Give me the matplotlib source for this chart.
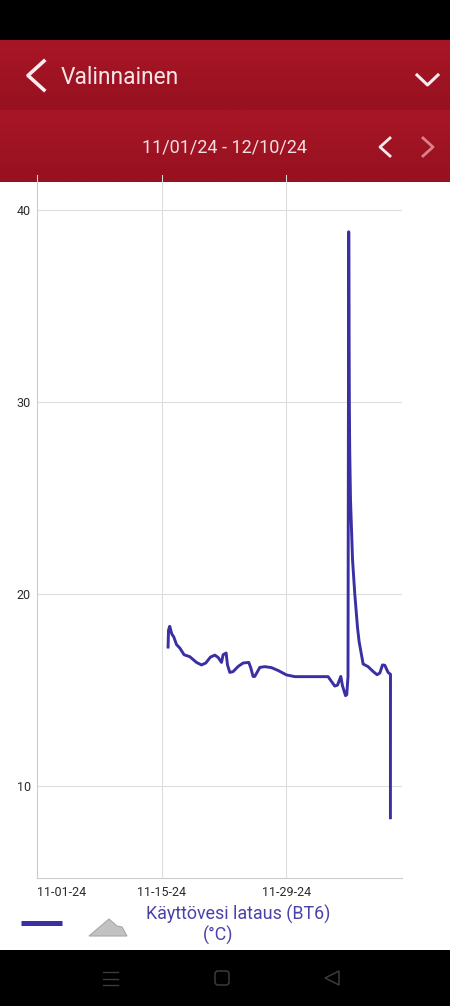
import numpy as np
import matplotlib
matplotlib.use('Agg')
import matplotlib.pyplot as plt
from matplotlib.patches import Polygon, Rectangle, FancyBboxPatch

plt.rcParams['font.family'] = ['Roboto', 'DejaVu Sans']

# days since 11-01-24, values in deg C
days = [14.71, 14.76, 14.90, 15.13, 15.35, 15.66, 16.03, 16.51, 17.15, 17.91, 18.47, 18.95,
        19.48, 19.97, 20.34, 20.72, 20.90, 21.24, 21.39, 21.65, 22.02, 22.59, 23.15, 23.79,
        24.02, 24.27, 24.46, 25.03, 25.59, 26.34, 27.09, 28.03, 28.97, 32.71, 33.09, 33.46,
        33.77, 34.14, 34.33, 34.67, 34.81, 34.95, 35.03, 35.10, 35.14, 35.23, 35.46, 35.71,
        36.02, 36.20, 36.65, 37.21, 37.77, 38.22, 38.53, 38.83, 39.09, 39.46, 39.73, 39.72]
temps = [17.22, 18.1, 18.3, 17.9, 17.75, 17.35, 17.17, 16.82, 16.72, 16.42, 16.29, 16.39,
         16.7, 16.8, 16.68, 16.42, 16.82, 16.91, 16.3, 15.9, 15.94, 16.21, 16.39, 16.42,
         16.13, 15.69, 15.69, 16.16, 16.2, 16.15, 16.0, 15.77, 15.68, 15.68, 15.43, 15.19,
         15.24, 15.69, 15.2, 14.69, 14.74, 15.69, 38.85, 30.0, 27.5, 24.9, 21.77, 20.0,
         18.23, 17.5, 16.34, 16.2, 15.95, 15.78, 15.87, 16.29, 16.27, 15.9, 15.8, 8.33]

x_ticks = [0, 14, 28]
x_labels = ['11-01-24', '11-15-24', '11-29-24']
y_ticks = [10, 20, 30, 40]

RED_TOP = '#a81626'
RED_BOT = '#971120'
LINE = '#3a2fa3'

W, H = 450, 1006
fig = plt.figure(figsize=(W / 100, H / 100), dpi=100, facecolor='white')

# phone chrome behind the chart
bg = fig.add_axes([0, 0, 1, 1], zorder=0)
bg.axis('off')
bg.add_patch(Rectangle((0, 0), W, 40, fc='black', ec='none'))
bg.add_patch(Rectangle((0, 950), W, 56, fc='black', ec='none'))
grad = np.linspace(0, 1, 64).reshape(-1, 1)
cmap = matplotlib.colors.LinearSegmentedColormap.from_list('hdr', [RED_TOP, RED_BOT])
bg.imshow(grad, extent=(0, W, 110, 40), cmap=cmap, aspect='auto', interpolation='bilinear')
bg.imshow(grad, extent=(0, W, 182, 110), cmap=cmap, aspect='auto', interpolation='bilinear')
bg.set_xlim(0, W)
bg.set_ylim(H, 0)

# chart
left, right, top, bottom = 37.3, 402, 175, 878
ax = fig.add_axes([left / W, 1 - bottom / H, (right - left) / W, (bottom - top) / H], zorder=1)
ax.patch.set_alpha(0)
ax.set_xlim(0, (right - left) / 8.89)
ax.set_ylim(10 - (bottom - 785.7) / 19.2, 10 + (785.7 - top) / 19.2)
ax.set_xticks(x_ticks)
ax.set_xticklabels(x_labels)
ax.set_yticks(y_ticks)
ax.grid(True, color='#dcdcdc', lw=0.75)
ax.set_axisbelow(True)
ax.tick_params(length=0, labelsize=9, labelcolor='#2b2b2b')
ax.tick_params(axis='x', pad=5.5)
ax.tick_params(axis='y', pad=4.5)
ax.get_xticklabels()[0].set_ha('left')
for s in ['top', 'right']:
    ax.spines[s].set_visible(False)
for s in ['left', 'bottom']:
    ax.spines[s].set_color('#cccccc')
    ax.spines[s].set_linewidth(0.8)
ax.plot(days, temps, color=LINE, lw=2.1, solid_joinstyle='round', clip_on=False)

# overlay: header text, icons, legend
fg = fig.add_axes([0, 0, 1, 1], zorder=2)
fg.set_xlim(0, W)
fg.set_ylim(H, 0)
fg.axis('off')
fg.patch.set_alpha(0)

fg.text(61, 77.5, 'Valinnainen', color='#f6e6e8', fontsize=16.4, va='center', ha='left')
fg.text(225, 147.5, '11/01/24 - 12/10/24', color='#f3dfe1', fontsize=13, va='center', ha='center')
fg.plot([44, 28, 44], [61, 75.5, 90], color='#f8ecee', lw=2.6)
fg.plot([417, 427.5, 438], [75, 85, 75], color='#f8ecee', lw=2.2)
fg.plot([390, 380, 390], [138, 147, 156], color='#f8ecee', lw=2.0)
fg.plot([423, 433, 423], [138, 147, 156], color='#d9808a', lw=2.0)

fg.plot([21, 62], [923, 923], color=LINE, lw=3.6, solid_capstyle='butt')
fg.add_patch(Polygon([(89, 936), (109, 919), (117, 926), (122, 927), (127, 936)],
                     closed=True, fc='#c2c2c2', ec='#a8a8a8', lw=0.8))
fg.text(238, 914, 'Käyttövesi lataus (BT6)', color='#4b42a8', fontsize=12.9, ha='center', va='center')
fg.text(218, 935, '(°C)', color='#4b42a8', fontsize=12.9, ha='center', va='center')

# android nav bar
nav = '#3c3c3c'
for y in [972, 979, 985]:
    fg.plot([103, 118], [y, y], color=nav, lw=1.0)
fg.add_patch(FancyBboxPatch((216, 972), 12, 12, boxstyle='round,pad=1,rounding_size=3',
                            fc='none', ec=nav, lw=1.1))
fg.add_patch(Polygon([(339, 971), (325, 978), (339, 985)], closed=True, fc='none', ec=nav, lw=1.1))

fig.savefig('out.png', dpi=100, facecolor='white')
